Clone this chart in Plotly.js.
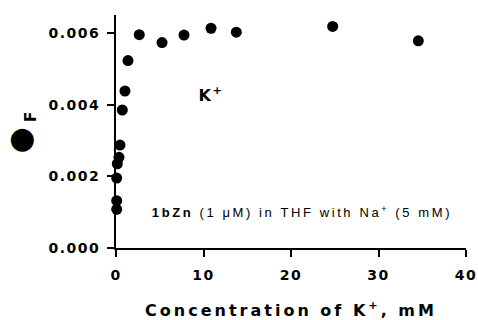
<!DOCTYPE html>
<html>
<head>
<meta charset="utf-8">
<script src="https://cdn.plot.ly/plotly-3.0.1.min.js"></script>
<style>
html,body{margin:0;padding:0;background:#fff;}
#chart{width:478px;height:320px;}
.xtick text, .ytick text {letter-spacing:1.5px;}
.g-xtitle text {letter-spacing:3px;}
.annotation[data-index="3"] text {letter-spacing:2.6px;}
.annotation[data-index="2"] text {letter-spacing:1.5px;}
</style>
</head>
<body>
<div id="chart"></div>
<script>
// Concentration of K+ (mM)
const concK = [0.08, 0.08, 0.08, 0.15, 0.34, 0.46, 0.72, 1.03, 1.37, 2.66, 5.26, 7.77, 10.86, 13.75, 24.76, 34.55];
// Fluorescence quantum yield
const phiF = [0.00108, 0.00132, 0.00195, 0.00235, 0.00253, 0.00287, 0.00385, 0.00438, 0.00523, 0.00595, 0.00573, 0.00594, 0.00613, 0.00602, 0.00618, 0.00578];
const xTicks = [0, 10, 20, 30, 40];
const yTicks = [0, 0.002, 0.004, 0.006];
const yTickText = ['0.000', '0.002', '0.004', '0.006'];

const trace = {
  x: concK, y: phiF, type: 'scatter', mode: 'markers',
  marker: {color: '#000', size: 11},
  cliponaxis: false, showlegend: false, hoverinfo: 'none'
};

const tickFont = {family: 'DejaVu Sans', size: 14, color: '#000', weight: 'bold'};

const layout = {
  width: 478, height: 320,
  margin: {l: 116, r: 12, t: 15, b: 72},
  paper_bgcolor: '#fff', plot_bgcolor: '#fff',
  xaxis: {
    range: [0, 40], tickvals: xTicks, ticktext: xTicks.map(String),
    showgrid: false, zeroline: false, showline: true, linecolor: '#000', linewidth: 2,
    ticks: 'outside', ticklen: 7, tickwidth: 2, tickcolor: '#000',
    tickfont: tickFont, ticklabelstandoff: 6,
    title: {text: 'Concentration of K<sup>+</sup>, mM', font: {family: 'DejaVu Sans', size: 16, color: '#000', weight: 'bold'}, standoff: 24}
  },
  yaxis: {
    range: [0, 0.0065], tickvals: yTicks, ticktext: yTickText,
    showgrid: false, zeroline: false, showline: true, linecolor: '#000', linewidth: 2,
    ticks: 'outside', ticklen: 7, tickwidth: 2, tickcolor: '#000',
    tickfont: tickFont, ticklabelstandoff: 4
  },
  annotations: [
    {xref: 'paper', yref: 'paper', x: -0.276, y: 0.463, text: '●', showarrow: false, textangle: -90,
     font: {family: 'DejaVu Sans', size: 30, color: '#000'}, xanchor: 'center', yanchor: 'middle'},
    {xref: 'paper', yref: 'paper', x: -0.243, y: 0.562, text: 'F', showarrow: false, textangle: -90,
     font: {family: 'DejaVu Sans', size: 15, color: '#000', weight: 'bold'}, xanchor: 'center', yanchor: 'middle'},
    {xref: 'paper', yref: 'paper', x: 0.272, y: 0.657, text: 'K<sup>+</sup>', showarrow: false,
     font: {family: 'DejaVu Sans', size: 16, color: '#000', weight: 'bold'}, xanchor: 'center', yanchor: 'middle'},
    {xref: 'paper', yref: 'paper', x: 0.531, y: 0.155, text: '<b>1bZn</b> (1 μM) in THF with Na<sup>+</sup> (5 mM)', showarrow: false,
     font: {family: 'Liberation Sans', size: 13, color: '#000'}, xanchor: 'center', yanchor: 'middle'}
  ]
};

Plotly.newPlot('chart', [trace], layout, {staticPlot: true, displayModeBar: false});
</script>
</body>
</html>
